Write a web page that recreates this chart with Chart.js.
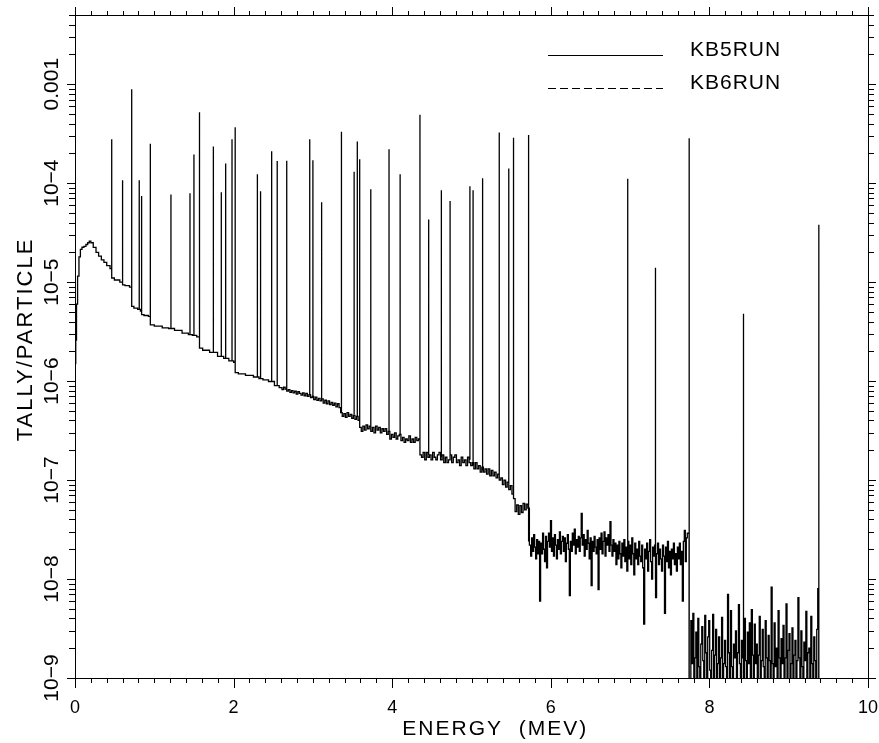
<!DOCTYPE html>
<html>
<head>
    <title>Tally per particle vs energy</title>
    <script src="https://cdn.jsdelivr.net/npm/chart.js@4"></script>
    <style>
        body {
            margin: 0;
            background: #fff;
        }
    </style>
</head>
<body>
    <canvas id="chart" width="879" height="743"></canvas>
    <script>
        // low-energy part of the spectrum (MeV, tally/particle); steps are two points at one energy
        const contE = [
            0.000, 0.006, 0.013, 0.025, 0.040, 0.060, 0.076, 0.100, 0.126, 0.150,
            0.170, 0.190, 0.210, 0.250, 0.280, 0.315, 0.350, 0.380, 0.420, 0.463,
            0.463, 0.530, 0.600, 0.600, 0.660, 0.715, 0.715, 0.770, 0.810, 0.840,
            0.840, 0.900, 0.950, 0.950, 1.050, 1.150, 1.210, 1.300, 1.400, 1.460,
            1.500, 1.570, 1.570, 1.650, 1.745, 1.850, 1.900, 1.980, 2.020, 2.020,
            2.100, 2.200, 2.300, 2.340, 2.400, 2.480, 2.550
        ];
        const contV = [
            6.5e-7, 1.5e-6, 2.6e-6, 6.0e-6, 1.15e-5, 1.8e-5, 2.14e-5, 2.25e-5, 2.3e-5, 2.4e-5,
            2.5e-5, 2.6e-5, 2.5e-5, 2.24e-5, 2.0e-5, 1.83e-5, 1.68e-5, 1.58e-5, 1.47e-5, 1.37e-5,
            1.1e-5, 1.05e-5, 1.0e-5, 9.4e-6, 9.2e-6, 8.9e-6, 5.7e-6, 5.45e-6, 5.3e-6, 5.1e-6,
            4.7e-6, 4.6e-6, 4.5e-6, 3.7e-6, 3.6e-6, 3.45e-6, 3.4e-6, 3.25e-6, 3.05e-6, 2.95e-6,
            2.9e-6, 2.8e-6, 2.15e-6, 2.05e-6, 1.95e-6, 1.78e-6, 1.7e-6, 1.6e-6, 1.55e-6, 1.22e-6,
            1.18e-6, 1.14e-6, 1.1e-6, 1.06e-6, 1.03e-6, 9.9e-7, 9.0e-7
        ];

        // 0.02 MeV bins from 2.60 to 5.72 MeV
        const midStart = 2.60;
        const midWidth = 0.02;
        const midV = [
            8.6e-7, 8.2e-7, 8.7e-7, 8.3e-7, 7.9e-7, 8.2e-7, 7.7e-7, 8.0e-7, 7.6e-7, 7.9e-7,
            7.4e-7, 7.8e-7, 7.5e-7, 7.2e-7, 7.6e-7, 7.1e-7, 7.5e-7, 7.0e-7, 7.3e-7, 6.8e-7,
            7.0e-7, 6.5e-7, 6.9e-7, 6.4e-7, 6.7e-7, 6.3e-7, 6.6e-7, 6.0e-7, 6.4e-7, 5.9e-7,
            6.3e-7, 5.8e-7, 6.1e-7, 5.7e-7, 6.0e-7, 5.5e-7, 5.9e-7, 5.4e-7, 4.8e-7, 4.4e-7,
            4.7e-7, 4.3e-7, 4.8e-7, 4.4e-7, 4.6e-7, 4.2e-7, 4.5e-7, 4.1e-7, 4.4e-7, 4.0e-7,
            3.4e-7, 3.1e-7, 3.5e-7, 3.2e-7, 3.6e-7, 3.3e-7, 3.5e-7, 3.1e-7, 3.4e-7, 3.0e-7,
            3.5e-7, 3.2e-7, 3.4e-7, 3.0e-7, 3.3e-7, 3.1e-7, 3.3e-7, 2.9e-7, 3.1e-7, 2.6e-7,
            2.9e-7, 2.7e-7, 3.0e-7, 2.6e-7, 2.8e-7, 2.9e-7, 2.5e-7, 2.7e-7, 2.4e-7, 2.6e-7,
            2.5e-7, 2.8e-7, 2.4e-7, 2.6e-7, 2.4e-7, 2.7e-7, 2.5e-7, 2.6e-7, 1.8e-7, 1.7e-7,
            1.9e-7, 1.6e-7, 1.9e-7, 1.7e-7, 1.8e-7, 1.6e-7, 1.9e-7, 1.7e-7, 1.6e-7, 1.8e-7,
            1.9e-7, 1.6e-7, 1.8e-7, 1.5e-7, 1.7e-7, 1.5e-7, 1.6e-7, 1.8e-7, 1.5e-7, 1.7e-7,
            1.8e-7, 1.5e-7, 1.6e-7, 1.4e-7, 1.7e-7, 1.5e-7, 1.6e-7, 1.4e-7, 1.7e-7, 1.5e-7,
            1.4e-7, 1.5e-7, 1.3e-7, 1.5e-7, 1.3e-7, 1.4e-7, 1.2e-7, 1.35e-7, 1.2e-7, 1.3e-7,
            1.15e-7, 1.3e-7, 1.1e-7, 1.25e-7, 1.1e-7, 1.2e-7, 1.05e-7, 1.15e-7, 1.0e-7, 1.05e-7,
            9.0e-8, 1.0e-7, 8.5e-8, 9.5e-8, 8.0e-8, 8.8e-8, 7.2e-8, 6.5e-8, 4.8e-8, 5.6e-8,
            4.5e-8, 5.5e-8, 4.7e-8, 5.8e-8, 5.0e-8, 5.7e-8, 5.2e-8
        ];

        // 0.0125 MeV bins, noisy stretch 5.74 - 7.73 MeV
        const band1Start = 5.74;
        const band1Width = 0.0125;
        const band1V = [
            2.2e-8, 1.7e-8, 2.6e-8, 1.9e-8, 2.8e-8, 2.1e-8, 1.6e-8, 2.5e-8, 1.8e-8, 2.4e-8,
            6.0e-9, 2.3e-8, 1.8e-8, 2.9e-8, 2.0e-8, 1.5e-8, 2.7e-8, 1.3e-8, 2.4e-8, 2.9e-8,
            2.1e-8, 3.9e-8, 1.9e-8, 2.6e-8, 1.7e-8, 2.8e-8, 2.2e-8, 1.6e-8, 2.5e-8, 2.0e-8,
            3.0e-8, 1.8e-8, 2.4e-8, 2.7e-8, 1.9e-8, 2.6e-8, 1.5e-8, 2.3e-8, 2.8e-8, 2.0e-8,
            6.8e-9, 2.4e-8, 1.9e-8, 2.9e-8, 2.2e-8, 3.2e-8, 1.8e-8, 2.5e-8, 2.1e-8, 2.7e-8,
            1.9e-8, 2.6e-8, 4.6e-8, 2.2e-8, 2.8e-8, 1.7e-8, 2.5e-8, 2.0e-8, 3.1e-8, 2.3e-8,
            1.6e-8, 2.6e-8, 8.6e-9, 2.4e-8, 1.9e-8, 2.7e-8, 2.1e-8, 1.8e-8, 2.5e-8, 7.8e-9,
            2.6e-8, 2.0e-8, 2.9e-8, 1.8e-8, 2.4e-8, 3.0e-8, 1.7e-8, 2.6e-8, 2.2e-8, 2.8e-8,
            1.9e-8, 3.8e-8, 2.2e-8, 1.7e-8, 2.5e-8, 1.9e-8, 2.3e-8, 1.4e-8, 2.2e-8, 1.6e-8,
            2.4e-8, 1.8e-8, 1.3e-8, 2.3e-8, 1.7e-8, 2.5e-8, 1.5e-8, 2.1e-8, 1.2e-8, 2.4e-8,
            1.6e-8, 2.2e-8, 1.4e-8, 2.6e-8, 1.8e-8, 1.1e-8, 2.3e-8, 1.6e-8, 2.0e-8, 1.4e-8,
            2.4e-8, 1.7e-8, 1.5e-8, 2.2e-8, 1.3e-8, 3.5e-9, 2.0e-8, 1.6e-8, 2.3e-8, 1.2e-8,
            1.9e-8, 2.5e-8, 1.5e-8, 1.0e-8, 2.1e-8, 1.7e-8, 2.2e-8, 6.5e-9, 1.8e-8, 2.3e-8,
            1.4e-8, 2.0e-8, 1.6e-8, 1.2e-8, 2.2e-8, 1.7e-8, 4.5e-9, 2.1e-8, 1.5e-8, 2.4e-8,
            1.3e-8, 1.9e-8, 1.1e-8, 2.0e-8, 1.6e-8, 2.3e-8, 1.4e-8, 1.8e-8, 1.2e-8, 2.1e-8,
            1.6e-8, 2.3e-8, 1.4e-8, 1.9e-8, 6.0e-9, 2.4e-8, 3.1e-8, 1.5e-8, 2.6e-8, 2.9e-8
        ];

        // 0.0125 MeV bins, near-empty stretch 7.76 - 9.39 MeV (5e-10 = empty bin, below the axis)
        const band2Start = 7.76;
        const band2Width = 0.0125;
        const band2V = [
            5e-10, 3.8e-9, 1.4e-9, 4.5e-9, 5e-10, 1.6e-9, 2.9e-9, 5e-10, 4.0e-9, 1.3e-9,
            5e-10, 2.2e-9, 3.3e-9, 1.5e-9, 5e-10, 4.3e-9, 1.8e-9, 5e-10, 2.6e-9, 3.8e-9,
            1.2e-9, 5e-10, 1.9e-9, 4.4e-9, 5e-10, 1.7e-9, 3.1e-9, 5e-10, 1.4e-9, 2.6e-9,
            5e-10, 1.6e-9, 4.1e-9, 5e-10, 1.4e-9, 2.4e-9, 1.3e-9, 5e-10, 7.0e-9, 1.8e-9,
            5e-10, 4.8e-9, 1.3e-9, 5e-10, 2.2e-9, 1.6e-9, 3.0e-9, 5e-10, 1.8e-9, 5.5e-9,
            1.4e-9, 5e-10, 2.4e-9, 1.6e-9, 5e-10, 4.0e-9, 1.5e-9, 5e-10, 2.9e-9, 1.4e-9,
            3.6e-9, 5e-10, 4.9e-9, 1.7e-9, 5e-10, 3.5e-9, 1.4e-9, 2.2e-9, 5e-10, 1.7e-9,
            4.2e-9, 5e-10, 1.5e-9, 3.1e-9, 1.3e-9, 5e-10, 3.8e-9, 1.6e-9, 5e-10, 2.7e-9,
            1.5e-9, 5e-10, 8.3e-9, 1.4e-9, 5e-10, 3.6e-9, 1.3e-9, 2.0e-9, 5e-10, 4.8e-9,
            1.6e-9, 5e-10, 2.5e-9, 1.4e-9, 3.4e-9, 5e-10, 1.6e-9, 5.6e-9, 5e-10, 1.9e-9,
            2.8e-9, 5e-10, 1.4e-9, 3.2e-9, 5e-10, 1.7e-9, 2.4e-9, 5e-10, 1.5e-9, 6.5e-9,
            1.6e-9, 5e-10, 3.0e-9, 1.3e-9, 5e-10, 2.3e-9, 1.5e-9, 4.7e-9, 5e-10, 1.8e-9,
            2.0e-9, 5e-10, 4.2e-9, 1.4e-9, 5e-10, 2.6e-9, 1.5e-9, 5e-10, 3.1e-9, 8.0e-9,
            5e-10
        ];

        // gamma lines: energy, top of the spike, foot of the spike
        const lineE = [
            0.463, 0.600, 0.715, 0.810, 0.840, 0.950, 1.210, 1.450, 1.500, 1.570,
            1.745, 1.845, 1.900, 1.980, 2.020, 2.300, 2.340, 2.480, 2.550, 2.670,
            2.960, 3.000, 3.110, 3.360, 3.520, 3.560, 3.590, 3.730, 3.960, 4.100,
            4.350, 4.460, 4.620, 4.730, 4.980, 5.020, 5.140, 5.350, 5.470, 5.530,
            5.720, 6.970, 7.320, 7.745, 8.430, 9.380
        ];
        const linePeak = [
            2.77e-4, 1.07e-4, 8.9e-4, 1.07e-4, 7.4e-5, 2.5e-4, 7.7e-5, 7.9e-5, 1.95e-4, 5.2e-4,
            2.35e-4, 8.1e-5, 1.58e-4, 2.77e-4, 3.67e-4, 1.23e-4, 8.3e-5, 2.1e-4, 1.67e-4, 1.68e-4,
            2.77e-4, 1.7e-4, 6.4e-5, 3.3e-4, 1.3e-4, 2.63e-4, 1.74e-4, 8.7e-5, 2.2e-4, 1.23e-4,
            4.9e-4, 4.3e-5, 8.5e-5, 6.6e-5, 9.3e-5, 8.5e-5, 1.12e-4, 3.24e-4, 1.41e-4, 2.88e-4,
            3.07e-4, 1.11e-4, 1.4e-5, 2.84e-4, 4.8e-6, 3.8e-5
        ];
        const lineBase = [
            1.1e-5, 9.4e-6, 5.7e-6, 5.3e-6, 4.7e-6, 3.7e-6, 3.4e-6, 2.95e-6, 2.9e-6, 2.15e-6,
            1.95e-6, 1.78e-6, 1.7e-6, 1.6e-6, 1.22e-6, 1.1e-6, 1.06e-6, 9.9e-7, 9.0e-7, 8.0e-7,
            7.3e-7, 6.8e-7, 6.4e-7, 4.8e-7, 4.6e-7, 4.4e-7, 3.5e-7, 3.5e-7, 3.1e-7, 2.9e-7,
            1.8e-7, 1.8e-7, 1.7e-7, 1.6e-7, 1.6e-7, 1.4e-7, 1.25e-7, 1.1e-7, 8.5e-8, 7.0e-8,
            2.4e-8, 1.2e-8, 1.0e-8, 5e-10, 5e-10, 5e-10
        ];

        const runLabels = ['KB5RUN', 'KB6RUN'];
        const xTickValues = [0, 2, 4, 6, 8, 10];
        const yTickValues = [1e-9, 1e-8, 1e-7, 1e-6, 1e-5, 1e-4, 1e-3];
        const yTickLabels = ['10\u22129', '10\u22128', '10\u22127', '10\u22126', '10\u22125', '10\u22124', '0.001'];

        const FONT = '"Liberation Sans", Arial, sans-serif';

        // one list of points: continuum, binned tail, then each spike split off by a null
        const points = [];
        contE.forEach((e, i) => points.push({ x: e, y: contV[i] }));
        midV.forEach((v, i) => points.push({ x: midStart + i * midWidth, y: v }));
        band1V.forEach((v, i) => points.push({ x: band1Start + i * band1Width, y: v }));
        band2V.forEach((v, i) => points.push({ x: band2Start + i * band2Width, y: v }));
        lineE.forEach((e, i) => {
            points.push({ x: e, y: null });
            points.push({ x: e, y: lineBase[i] });
            points.push({ x: e, y: linePeak[i] });
        });

        // frame, tick marks, tick labels, titles and the legend
        const decor = {
            id: 'decor',
            afterDraw(chart) {
                const { ctx, chartArea: a, scales: { x, y } } = chart;
                ctx.save();
                ctx.strokeStyle = '#000';
                ctx.fillStyle = '#000';
                ctx.lineWidth = 1;
                ctx.strokeRect(a.left + 0.5, a.top + 0.5, a.right - a.left, a.bottom - a.top);

                ctx.beginPath();
                for (let k = 0; k <= 50; k++) {
                    const px = Math.round(x.getPixelForValue(k * 0.2)) + 0.5;
                    const major = k % 10 === 0;
                    ctx.moveTo(px, a.bottom);
                    ctx.lineTo(px, a.bottom + (major ? 10 : 5));
                    ctx.moveTo(px, a.top);
                    ctx.lineTo(px, a.top - (major ? 8 : 4));
                }
                for (let d = -9; d <= -3; d++) {
                    for (let m = 1; m <= 9; m++) {
                        const v = m * Math.pow(10, d);
                        if (v > y.max * 1.0001) break;
                        const py = Math.round(y.getPixelForValue(v)) + 0.5;
                        const len = m === 1 ? 8 : 6;
                        ctx.moveTo(a.left, py);
                        ctx.lineTo(a.left - len, py);
                        ctx.moveTo(a.right, py);
                        ctx.lineTo(a.right + len, py);
                    }
                }
                ctx.stroke();

                ctx.textAlign = 'center';
                ctx.textBaseline = 'alphabetic';

                // x tick labels
                ctx.font = '18px ' + FONT;
                xTickValues.forEach(v => {
                    ctx.fillText(String(v), x.getPixelForValue(v), a.bottom + 35);
                });

                // y tick labels, turned to read upwards
                ctx.font = '21px ' + FONT;
                yTickValues.forEach((v, i) => {
                    ctx.save();
                    ctx.translate(a.left - 17, y.getPixelForValue(v));
                    ctx.rotate(-Math.PI / 2);
                    ctx.fillText(yTickLabels[i], 0, 0);
                    ctx.restore();
                });

                // axis titles
                ctx.letterSpacing = '2px';
                ctx.font = '22px ' + FONT;
                ctx.save();
                ctx.translate(32, (a.top + a.bottom) / 2 - 7);
                ctx.rotate(-Math.PI / 2);
                ctx.fillText('TALLY/PARTICLE', 0, 0);
                ctx.restore();
                ctx.font = '21px ' + FONT;
                ctx.fillText('ENERGY  (MEV)', a.left + 0.53 * (a.right - a.left), 735);

                // legend (both runs, also the one hidden under the first)
                ctx.letterSpacing = '1px';
                ctx.textAlign = 'left';
                chart.data.datasets.forEach((ds, i) => {
                    const ly = a.top + 40.5 + i * 33;
                    ctx.setLineDash(ds.borderDash || []);
                    ctx.beginPath();
                    ctx.moveTo(a.right - 320, ly);
                    ctx.lineTo(a.right - 205, ly);
                    ctx.stroke();
                    ctx.setLineDash([]);
                    ctx.fillText(ds.label, a.right - 178, ly);
                });
                ctx.restore();
            }
        };

        const ctx = document.getElementById('chart').getContext('2d');
        new Chart(ctx, {
            type: 'line',
            data: {
                datasets: [{
                    label: runLabels[0],
                    data: points,
                    borderColor: '#000',
                    borderWidth: 1.3,
                    pointRadius: 0,
                    stepped: 'middle',
                    spanGaps: false
                }, {
                    // the second run falls exactly on the first one
                    label: runLabels[1],
                    data: points,
                    hidden: true,
                    borderColor: '#000',
                    borderWidth: 1.3,
                    borderDash: [8, 4],
                    pointRadius: 0,
                    stepped: 'middle',
                    spanGaps: false
                }]
            },
            options: {
                responsive: false,
                animation: false,
                layout: { padding: { top: 15, right: 11, left: 0, bottom: 0 } },
                plugins: {
                    legend: { display: false },
                    tooltip: { enabled: false }
                },
                scales: {
                    x: {
                        type: 'linear',
                        min: 0,
                        max: 10,
                        grid: { display: false, drawTicks: false },
                        border: { display: false },
                        ticks: { display: false },
                        afterFit: s => { s.height = 65; }
                    },
                    y: {
                        type: 'logarithmic',
                        min: 1e-9,
                        max: 5e-3,
                        grid: { display: false, drawTicks: false },
                        border: { display: false },
                        ticks: { display: false },
                        afterFit: s => { s.width = 75; }
                    }
                }
            },
            plugins: [decor]
        });
    </script>
</body>
</html>
